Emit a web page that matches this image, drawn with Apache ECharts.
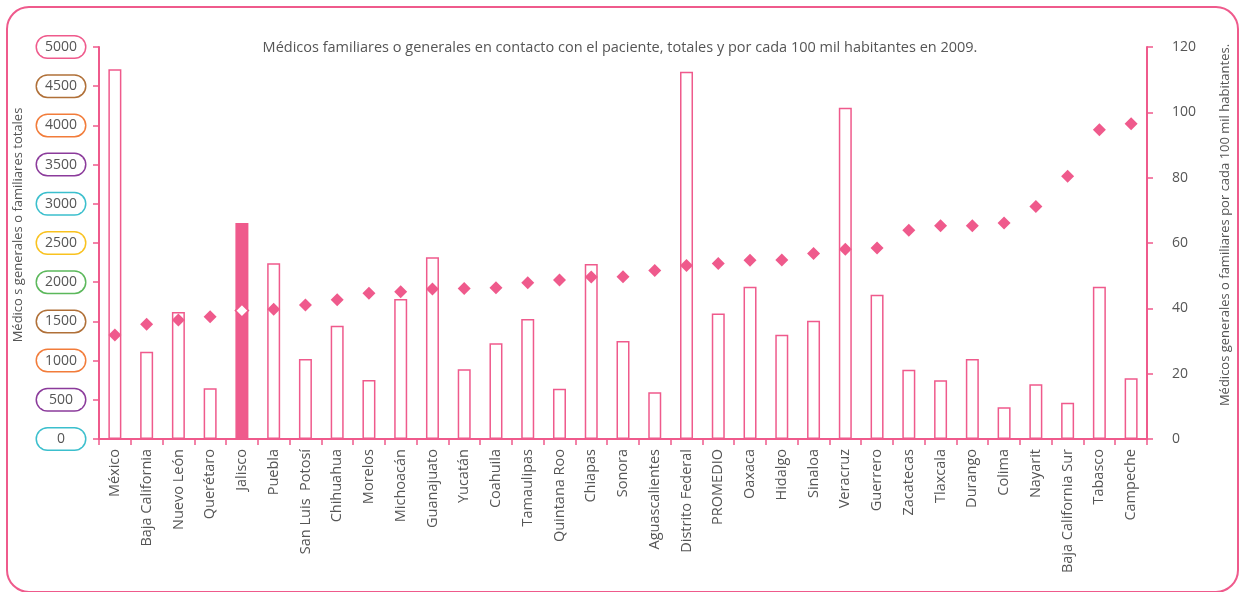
<!DOCTYPE html>
<html>
<head>
<meta charset="utf-8">
<script src="https://cdn.jsdelivr.net/npm/echarts@6/dist/echarts.min.js"></script>
<style>
html,body{margin:0;padding:0;background:#fff;}
#chart{width:1240px;height:592px;}
</style>
</head>
<body>
<div id="chart"></div>
<script>
const categories = ["México","Baja California","Nuevo León","Querétaro","Jalisco","Puebla","San Luis  Potosí","Chihuahua","Morelos","Michoacán","Guanajuato","Yucatán","Coahuila","Tamaulipas","Quintana Roo","Chiapas","Sonora","Aguascalientes","Distrito Federal","PROMEDIO","Oaxaca","Hidalgo","Sinaloa","Veracruz","Guerrero","Zacatecas","Tlaxcala","Durango","Colima","Nayarit","Baja California Sur","Tabasco","Campeche"];
const totales = [4716,1114,1620,646,2755,2241,1020,1445,753,1786,2317,889,1220,1531,642,2232,1250,595,4685,1600,1943,1331,1509,4226,1841,884,748,1020,404,697,463,1943,774];
const porCada100mil = [31.8,35.1,36.4,37.4,39.3,39.7,41.0,42.6,44.6,45.1,45.9,46.1,46.3,47.8,48.7,49.6,49.7,51.6,53.1,53.7,54.7,54.8,56.8,58.1,58.5,63.9,65.3,65.3,66.1,71.2,80.4,94.7,96.5];
const highlighted = "Jalisco";
const leftTicks = [0,500,1000,1500,2000,2500,3000,3500,4000,4500,5000];
const rightTicks = [0,20,40,60,80,100,120];
const titleText = "Médicos familiares o generales en contacto con el paciente, totales y por cada 100 mil habitantes en 2009.";
const leftName = "Médico s generales o familiares totales";
const rightName = "Médicos generales o familiares por cada 100 mil habitantes.";

const PINK = "#EF5A8C";
const GRAY = "#555555";
const FONT = "Open Sans";
const boxColors = {0:"#3BBFCD",500:"#8B3B9B",1000:"#F27C3A",1500:"#B07038",2000:"#5BB85B",2500:"#F9C21F",3000:"#3BBFCD",3500:"#8B3B9B",4000:"#F27C3A",4500:"#B07038",5000:"#EF5A8C"};
const rich = {};
leftTicks.forEach(v => {
  rich['b' + v] = {
    color: GRAY, fontFamily: FONT, fontSize: 14,
    borderColor: boxColors[v], borderWidth: 1.5, borderRadius: 11,
    width: 36, height: 17, lineHeight: 17, align: 'center', padding: [2, 6, 2, 6],
    backgroundColor: '#fff'
  };
});

const barData = totales.map((v, i) => categories[i] === highlighted
  ? {value: v, itemStyle: {color: PINK, borderColor: PINK}}
  : v);
const scatterData = porCada100mil.map((v, i) => categories[i] === highlighted
  ? {value: v, itemStyle: {color: '#fff', borderColor: PINK, borderWidth: 1.5}}
  : v);

const chart = echarts.init(document.getElementById('chart'), null, {renderer: 'canvas'});
chart.setOption({
  animation: false,
  backgroundColor: '#fff',
  textStyle: {fontFamily: FONT},
  title: {
    text: titleText, left: 'center', top: 35,
    textStyle: {fontFamily: FONT, fontSize: 14.5, fontWeight: 'normal', color: GRAY}
  },
  graphic: [{
    type: 'rect', silent: true,
    shape: {x: 7, y: 7, width: 1231, height: 585, r: 22},
    style: {fill: 'none', stroke: PINK, lineWidth: 2}
  }],
  grid: {left: 99, right: 92, top: 47, bottom: 153, containLabel: false},
  xAxis: {
    type: 'category', data: categories,
    axisLine: {lineStyle: {color: PINK, width: 2}},
    axisTick: {show: true, length: 6, lineStyle: {color: PINK, width: 1.5}},
    axisLabel: {interval: 0, rotate: 90, color: GRAY, fontFamily: FONT, fontSize: 14.5, margin: 10}
  },
  yAxis: [{
    type: 'value', min: 0, max: 5000, interval: 500,
    name: leftName, nameLocation: 'middle', nameGap: 71, nameRotate: 90,
    nameTextStyle: {color: GRAY, fontFamily: FONT, fontSize: 13, padding: [0, 0, 0, 36]},
    axisLine: {show: true, lineStyle: {color: PINK, width: 2}},
    axisTick: {show: true, length: 6, lineStyle: {color: PINK, width: 1.5}},
    splitLine: {show: false},
    axisLabel: {margin: 14, formatter: v => '{b' + v + '|' + v + '}', rich: rich}
  }, {
    type: 'value', min: 0, max: 120, interval: 20, position: 'right',
    name: rightName, nameLocation: 'middle', nameGap: 72, nameRotate: 90,
    nameTextStyle: {color: GRAY, fontFamily: FONT, fontSize: 13, padding: [0, 0, 0, 36]},
    axisLine: {show: true, lineStyle: {color: PINK, width: 2}},
    axisTick: {show: true, length: 6, lineStyle: {color: PINK, width: 1.5}},
    splitLine: {show: false},
    axisLabel: {margin: 25, color: GRAY, fontFamily: FONT, fontSize: 14}
  }],
  series: [{
    type: 'bar', yAxisIndex: 0, data: barData, barWidth: 13,
    itemStyle: {color: '#fff', borderColor: PINK, borderWidth: 1.5}
  }, {
    type: 'scatter', yAxisIndex: 1, data: scatterData,
    symbol: 'diamond', symbolSize: 13,
    itemStyle: {color: PINK, opacity: 1}
  }]
});
</script>
</body>
</html>
